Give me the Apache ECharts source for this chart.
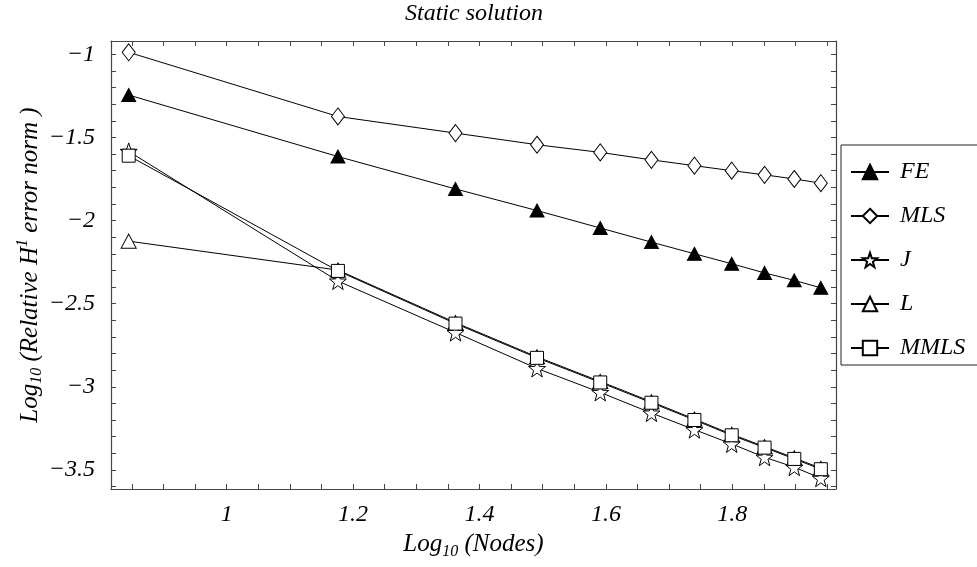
<!DOCTYPE html>
<html>
<head>
<meta charset="utf-8">
<script src="https://cdn.jsdelivr.net/npm/echarts@6/dist/echarts.min.js"></script>
<style>
  html, body { margin: 0; padding: 0; background: #fff; }
  #chart { width: 977px; height: 567px; }
</style>
</head>
<body>
<div id="chart"></div>
<script>
// ---- data (log10 nodes vs log10 relative H1 error norm) ----
const xNodes = [0.845, 1.176, 1.362, 1.491, 1.591, 1.672, 1.740, 1.799, 1.851, 1.898, 1.940];
const FE   = [-1.245, -1.615, -1.81, -1.94, -2.045, -2.13, -2.20, -2.26, -2.315, -2.36, -2.405];
const MLS  = [-0.988, -1.374, -1.474, -1.544, -1.59, -1.635, -1.67, -1.70, -1.725, -1.75, -1.775];
const J    = [-1.584, -2.364, -2.674, -2.89, -3.034, -3.158, -3.258, -3.344, -3.424, -3.484, -3.55];
const L    = [-2.124, -2.298, -2.614, -2.82, -2.968, -3.09, -3.194, -3.286, -3.36, -3.428, -3.49];
const MMLS = [-1.61, -2.303, -2.62, -2.826, -2.974, -3.096, -3.2, -3.292, -3.366, -3.434, -3.496];

// ---- tick labels / tick positions ----
const xLabels = [1, 1.2, 1.4, 1.6, 1.8];
const xTicks = [0.85, 0.9, 0.95, 1, 1.05, 1.1, 1.15, 1.2, 1.25, 1.3, 1.35, 1.4, 1.45, 1.5, 1.55, 1.6, 1.65, 1.7, 1.75, 1.8, 1.85, 1.9, 1.95];
const yLabels = [-1, -1.5, -2, -2.5, -3, -3.5];
const yTicks = [-3.6, -3.5, -3.4, -3.3, -3.2, -3.1, -3, -2.9, -2.8, -2.7, -2.6, -2.5, -2.4, -2.3, -2.2, -2.1, -2, -1.9, -1.8, -1.7, -1.6, -1.5, -1.4, -1.3, -1.2, -1.1, -1];

const FONT = '"Liberation Serif", "DejaVu Serif", serif';
const STAR = 'path://M0 -1 L0.235 -0.324 L0.951 -0.309 L0.380 0.124 L0.588 0.809 L0 0.4 L-0.588 0.809 L-0.380 0.124 L-0.951 -0.309 L-0.235 -0.324 Z';

function pairs(ys) { return xNodes.map((x, i) => [x, ys[i]]); }

const frameColor = '#444';
const baseText = { fontFamily: FONT, fontStyle: 'italic', color: '#000', fontSize: 24 };
const nameText = { fontFamily: FONT, fontStyle: 'italic', color: '#000', fontSize: 25 };

function mkSeries(name, ys, symbol, size, filled) {
  return {
    name, type: 'line', data: pairs(ys), symbol, symbolSize: size,
    showAllSymbol: true,
    lineStyle: { color: '#000', width: 1 },
    itemStyle: { color: filled ? '#000' : '#fff', borderColor: '#000', borderWidth: 1 },
    emphasis: { disabled: true },
    animation: false, z: 3
  };
}

const chart = echarts.init(document.getElementById('chart'), null, { renderer: 'canvas' });
chart.setOption({
  backgroundColor: '#fff',
  animation: false,
  title: {
    text: 'Static solution', left: 469, top: -3, textAlign: 'center',
    textStyle: Object.assign({}, baseText, { fontWeight: 'normal', fontSize: 24 })
  },
  grid: { left: 111, top: 41, right: 141, bottom: 78, containLabel: false },
  legend: {
    orient: 'vertical', left: 841, top: 145,
    padding: [15, 14, 5, 9], itemGap: 20, itemWidth: 38, itemHeight: 18,
    borderColor: '#222', borderWidth: 1, backgroundColor: '#fff',
    textStyle: Object.assign({}, baseText, { padding: [0, 0, 0, 6] }),
    data: ['FE', 'MLS', 'J', 'L', 'MMLS']
  },
  xAxis: [{
    type: 'value', min: 0.817, max: 1.964, position: 'bottom',
    name: '{i|Log}{sub|10}{i| (Nodes)}', nameLocation: 'middle', nameGap: 40,
    nameTextStyle: {
      rich: {
        i: Object.assign({}, nameText),
        sub: Object.assign({}, nameText, { fontSize: 16, padding: [14, 0, 0, 0] })
      }
    },
    axisLine: { show: true, lineStyle: { color: frameColor, width: 1.2 } },
    axisTick: { show: true, inside: true, length: 5, customValues: xTicks, lineStyle: { color: frameColor } },
    axisLabel: { customValues: xLabels, margin: 14, fontFamily: FONT, fontStyle: 'italic', fontSize: 24, color: '#000' },
    splitLine: { show: false }
  }, {
    type: 'value', min: 0.817, max: 1.964, position: 'top',
    axisLine: { show: true, lineStyle: { color: frameColor, width: 1.2 } },
    axisTick: { show: true, inside: true, length: 5, customValues: xTicks, lineStyle: { color: frameColor } },
    axisLabel: { show: false },
    splitLine: { show: false }
  }],
  yAxis: [{
    type: 'value', min: -3.615, max: -0.92, position: 'left',
    name: '{i|Log}{sub|10}{i| (Relative H}{sup|1}{i| error norm )}', nameLocation: 'middle', nameGap: 66, nameRotate: 90,
    nameMoveOverlap: false,
    nameTextStyle: {
      rich: {
        i: Object.assign({}, nameText),
        sub: Object.assign({}, nameText, { fontSize: 16, padding: [14, 0, 0, 0] }),
        sup: Object.assign({}, nameText, { fontSize: 16, padding: [0, 0, 14, 0] })
      }
    },
    axisLine: { show: true, lineStyle: { color: frameColor, width: 1.2 } },
    axisTick: { show: true, inside: true, length: 5, customValues: yTicks, lineStyle: { color: frameColor } },
    axisLabel: {
      customValues: yLabels, margin: 16, fontFamily: FONT, fontStyle: 'italic', fontSize: 24, color: '#000',
      formatter: v => String(v).replace('-', '\u2212')
    },
    splitLine: { show: false }
  }, {
    type: 'value', min: -3.615, max: -0.92, position: 'right',
    axisLine: { show: true, lineStyle: { color: frameColor, width: 1.2 } },
    axisTick: { show: true, inside: true, length: 5, customValues: yTicks, lineStyle: { color: frameColor } },
    axisLabel: { show: false },
    splitLine: { show: false }
  }],
  series: [
    mkSeries('FE', FE, 'triangle', [14, 13], true),
    mkSeries('MLS', MLS, 'diamond', [13, 17], false),
    mkSeries('J', J, STAR, [17, 17], false),
    mkSeries('L', L, 'triangle', [15, 14], false),
    mkSeries('MMLS', MMLS, 'rect', [13, 13], false)
  ]
});
</script>
</body>
</html>
